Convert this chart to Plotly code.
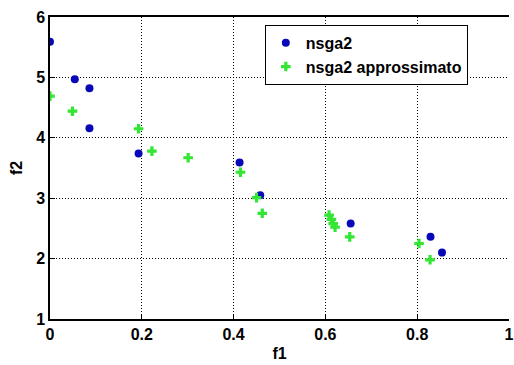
import plotly.graph_objects as go

# nsga2 (blue dots)
nsga2_f1 = [0.0, 0.054, 0.086, 0.086, 0.193, 0.413, 0.458, 0.655, 0.829, 0.854]
nsga2_f2 = [5.59, 4.97, 4.82, 4.16, 3.74, 3.59, 3.05, 2.58, 2.36, 2.10]

# nsga2 approssimato (green plus)
appr_f1 = [0.0, 0.049, 0.193, 0.222, 0.301, 0.415, 0.450, 0.4625, 0.608, 0.613, 0.617, 0.621, 0.653, 0.804, 0.828]
appr_f2 = [4.69, 4.44, 4.15, 3.78, 3.67, 3.43, 3.01, 2.75, 2.72, 2.65, 2.58, 2.52, 2.36, 2.25, 1.98]

x_ticks = [0, 0.2, 0.4, 0.6, 0.8, 1]
x_ticklabels = ["0", "0.2", "0.4", "0.6", "0.8", "1"]
y_ticks = [1, 2, 3, 4, 5, 6]

font = dict(family="Liberation Sans, Arial, sans-serif", size=16, color="black", weight="bold")

fig = go.Figure()
fig.add_trace(go.Scatter(
    x=nsga2_f1, y=nsga2_f2, mode="markers", name="nsga2",
    marker=dict(symbol="circle", size=8, color="#0808b8"),
))
fig.add_trace(go.Scatter(
    x=appr_f1, y=appr_f2, mode="markers", name="nsga2 approssimato",
    marker=dict(symbol="cross", size=8, color="#33e633"),
))

axis_common = dict(
    showline=True, linecolor="black", linewidth=1.5,
    ticks="inside", ticklen=5, tickcolor="black",
    showgrid=True, gridcolor="black", gridwidth=1, griddash="1px,2px",
    zeroline=False, tickfont=font,
)

fig.update_layout(
    width=514, height=365,
    margin=dict(l=50, r=0, t=17, b=46),
    plot_bgcolor="white", paper_bgcolor="white",
    font=font,
    showlegend=True,
    legend=dict(
        x=0.468, y=0.974, xanchor="left", yanchor="top",
        bordercolor="black", borderwidth=1, bgcolor="white",
        font=font, tracegroupgap=0, itemwidth=30,
    ),
    xaxis=dict(range=[0, 1], tickvals=x_ticks, ticktext=x_ticklabels,
               mirror=True, ticklabeloverflow="allow",
               title=dict(text="f1", font=font, standoff=6), **axis_common),
    yaxis=dict(range=[1, 6], tickvals=y_ticks, mirror=False,
               title=dict(text="f2", font=font, standoff=10), **axis_common),
)

fig.write_html("out.html")
